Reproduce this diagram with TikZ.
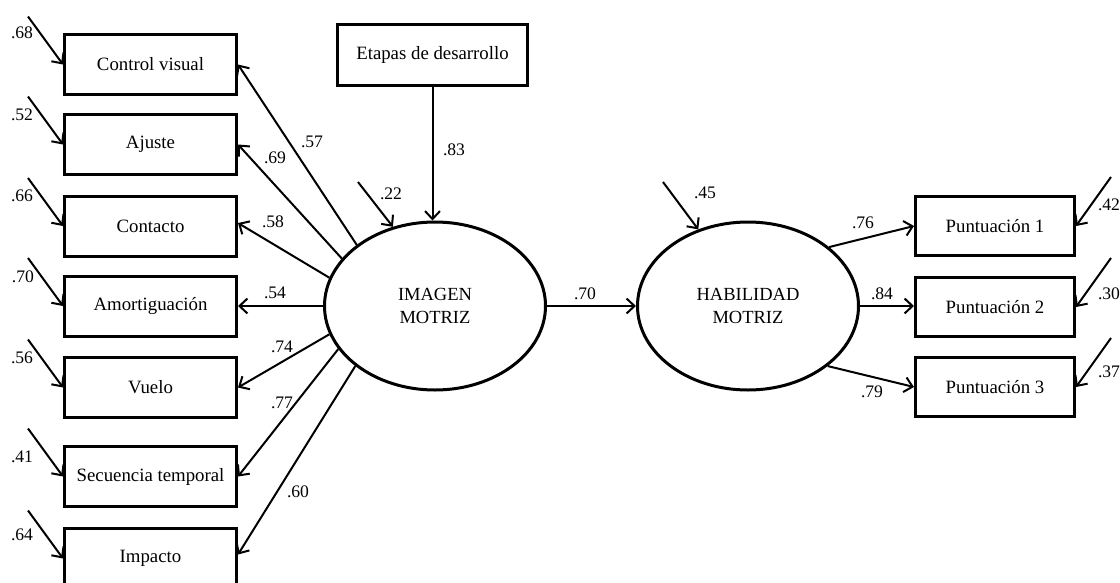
\documentclass[tikz,border=0pt]{standalone}
\usepackage{fontspec}
\setmainfont{Liberation Serif}
\usetikzlibrary{arrows.meta,shapes.geometric}
\begin{document}
\begin{tikzpicture}[x=1pt,y=1pt,
 box/.style={draw,line width=3pt,minimum width=172pt,minimum height=60pt,inner sep=0pt,font=\fontsize{18.8}{22}\selectfont},
 rbox/.style={box,minimum width=159pt,minimum height=59pt},
 lat/.style={draw,ellipse,line width=3pt,minimum width=221pt,minimum height=168pt,inner sep=0pt,align=center,font=\fontsize{18.5}{23}\selectfont},
 arr/.style={line width=2pt,-{Straight Barb[length=8pt,width=15pt]}},
 lab/.style={font=\fontsize{17.6}{20}\selectfont,inner sep=0pt}]
\useasboundingbox (0,0) rectangle (1120,-582);
% observed variables left
\node[box] (cv) at (150.5,-64.5) {Control visual};
\node[box] (aj) at (150.5,-144.5) {Ajuste};
\node[box] (co) at (150.5,-226) {Contacto};
\node[box] (am) at (150.5,-306) {Amortiguación};
\node[box] (vu) at (150.5,-387.5) {Vuelo};
\node[box] (se) at (150.5,-476.5) {Secuencia temporal};
\node[box] (ip) at (150.5,-558.5) {Impacto};
% top box
\node[box,minimum width=190pt,minimum height=61pt] (et) at (432.5,-55) {Etapas de desarrollo};
% latent
\node[lat] (im) at (435,-306) {IMAGEN\\MOTRIZ};
\node[lat] (hab) at (748,-306) {HABILIDAD\\MOTRIZ};
% right boxes
\node[rbox] (p1) at (995,-226) {Puntuación 1};
\node[rbox] (p2) at (995,-307) {Puntuación 2};
\node[rbox] (p3) at (995,-387) {Puntuación 3};
% loadings
\draw[arr] (im.142.7) -- (cv.east);
\draw[arr] (im.153.2) -- (aj.east);
\draw[arr] (im.165.5) -- ([yshift=3pt]co.east);
\draw[arr] (im.west) -- (am.east);
\draw[arr] (im.195) -- (vu.east);
\draw[arr] (im.204) -- (se.east);
\draw[arr] (im.217.8) -- ([yshift=4pt]ip.east);
\draw[arr] (et.south) -- (et.south |- im.north);
\draw[arr] (im.east) -- (hab.west);
\draw[arr] (hab.36) -- (p1.west);
\draw[arr] (hab.east) -- (hab.east -| p2.west);
\draw[arr] (hab.-37) -- (p3.west);
% errors
\foreach \n in {cv,aj,co,am,vu,se,ip}{
  \coordinate (e\n) at ([shift={(-35,48)}]\n.west);
  \draw[arr] (e\n) -- (\n.west);
}
\foreach \n in {p1,p2,p3}{
  \coordinate (e\n) at ([shift={(35,49)}]\n.east);
  \draw[arr] (e\n) -- (\n.east);
}
\coordinate (eim) at (358,-182);
\draw[arr] (eim) -- (im.118.6);
\coordinate (ehab) at (663,-182);
\draw[arr] (ehab) -- (hab.123.5);
% labels
\node[lab] (l57) at (312,-142) {.57};
\node[lab] (l69) at (275,-158) {.69};
\node[lab] (l58) at (273,-222) {.58};
\node[lab] (l54) at (275,-293) {.54};
\node[lab] (l74) at (282,-347) {.74};
\node[lab] (l77) at (282,-403) {.77};
\node[lab] (l60) at (298,-492) {.60};
\node[lab] (l83) at (454,-150) {.83};
\node[lab] (l22) at (391,-194) {.22};
\node[lab] (l70) at (585,-294) {.70};
\node[lab] (l45) at (705,-193) {.45};
\node[lab] (l76) at (863,-223) {.76};
\node[lab] (l84) at (882,-294) {.84};
\node[lab] (l79) at (872,-392) {.79};
\node[lab] (l42) at (1109,-205) {.42};
\node[lab] (l30) at (1109,-294) {.30};
\node[lab] (l37) at (1109,-372) {.37};
\node[lab] (l68) at (22,-33) {.68};
\node[lab] (l52) at (22,-115) {.52};
\node[lab] (l66) at (22,-196) {.66};
\node[lab] (l70b) at (23,-277) {.70};
\node[lab] (l56) at (22,-358) {.56};
\node[lab] (l41) at (22,-457) {.41};
\node[lab] (l64) at (22,-535) {.64};
\end{tikzpicture}
\end{document}
